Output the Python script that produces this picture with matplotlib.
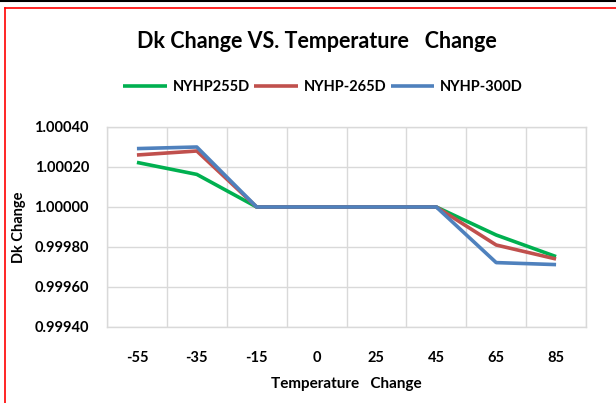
import numpy as np
import matplotlib
matplotlib.use("Agg")
import matplotlib.pyplot as plt
from matplotlib.lines import Line2D

plt.rcParams['font.family'] = ['Lato', 'DejaVu Sans']

temps = ['-55', '-35', '-15', '0', '25', '45', '65', '85']
nyhp255d = [1.000223, 1.000163, 1.0, 1.0, 1.0, 1.0, 0.999860, 0.999752]
nyhp265d = [1.000260, 1.000280, 1.0, 1.0, 1.0, 1.0, 0.999810, 0.999740]
nyhp300d = [1.000292, 1.000300, 1.0, 1.0, 1.0, 1.0, 0.999722, 0.999712]
y_ticks = [0.9994, 0.9996, 0.9998, 1.0, 1.0002, 1.0004]

fig = plt.figure(figsize=(6.16, 4.03), dpi=100)
ax = fig.add_axes([107 / 616, 1 - 327 / 403, 479 / 616, 200 / 403])

x = np.arange(len(temps))
ax.plot(x, nyhp255d, color='#00B050', lw=2.6, label='NYHP255D', solid_capstyle='butt')
ax.plot(x, nyhp265d, color='#C0504D', lw=2.6, label='NYHP-265D', solid_capstyle='butt')
ax.plot(x, nyhp300d, color='#4F81BD', lw=2.6, label='NYHP-300D', solid_capstyle='butt')

ax.set_xlim(-0.5, len(temps) - 0.5)
ax.set_ylim(0.9994, 1.0004)
ax.set_xticks(x)
ax.set_xticklabels(temps)
ax.set_xticks(np.arange(-0.5, len(temps)), minor=True)
ax.set_yticks(y_ticks)
ax.set_yticklabels([f'{v:.5f}' for v in y_ticks])
ax.tick_params(which='both', length=0)
ax.tick_params(axis='x', pad=17)
ax.tick_params(axis='y', pad=13)
for lab in ax.get_xticklabels() + ax.get_yticklabels():
    lab.set_fontsize(10.5)
    lab.set_fontweight('bold')
ax.grid(True, which='minor', axis='x', color='#D9D9D9', lw=1)
ax.grid(True, which='major', axis='y', color='#D9D9D9', lw=1)
ax.set_axisbelow(True)
for s in ax.spines.values():
    s.set_color('#D9D9D9')
    s.set_linewidth(1)

ax.set_xlabel('Temperature   Change', fontsize=11, fontweight='bold', labelpad=9)
ax.set_ylabel('Dk Change', fontsize=10.5, fontweight='bold', labelpad=6)

fig.text(317 / 616, 1 - 41 / 403, 'Dk Change VS. Temperature   Change',
         ha='center', va='center', fontsize=15.5, fontweight='bold')
leg = fig.legend(loc='center', bbox_to_anchor=(323 / 616, 1 - 87 / 403), ncol=3,
                 frameon=False, handlelength=3, columnspacing=0.3, handletextpad=0.4,
                 prop={'size': 10.5, 'weight': 'bold'})

# border of the pasted chart
fig.add_artist(Line2D([0, 1], [1 - 1 / 403, 1 - 1 / 403], color='black', lw=1.5))
fig.add_artist(Line2D([4.5 / 616, 1], [1 - 7.5 / 403, 1 - 7.5 / 403], color='red', lw=1.2))
fig.add_artist(Line2D([4.5 / 616, 4.5 / 616], [0, 1 - 7.5 / 403], color='red', lw=1.2))

fig.savefig('out.png', dpi=100)
